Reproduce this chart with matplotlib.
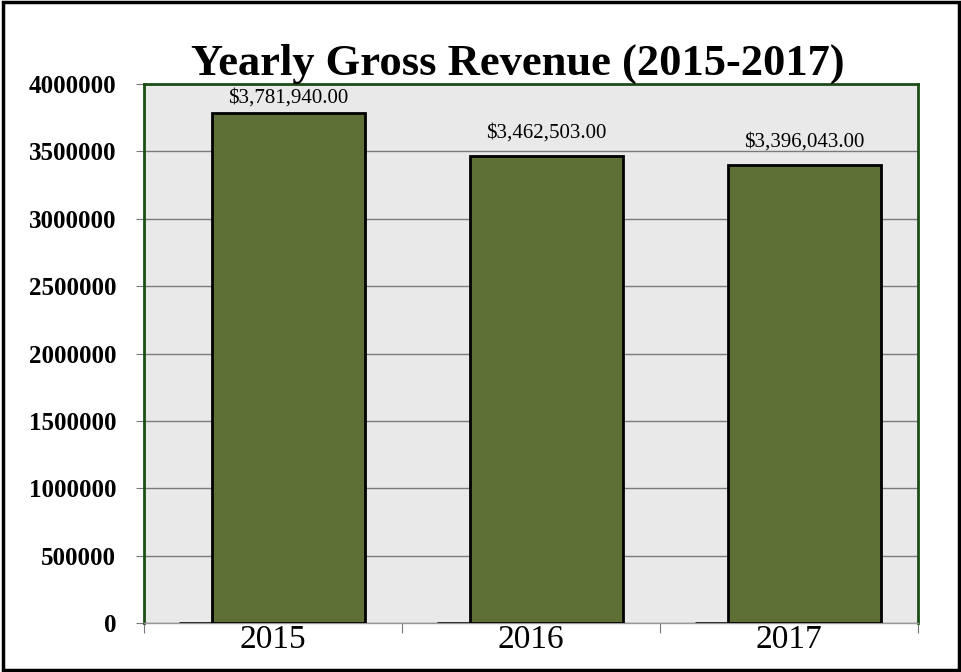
import matplotlib.pyplot as plt
from matplotlib.patches import Rectangle

years = ['2015', '2016', '2017']
revenue = [3781940.00, 3462503.00, 3396043.00]
empty_series = [0, 0, 0]
value_labels = ['$3,781,940.00', '$3,462,503.00', '$3,396,043.00']
y_ticks = [0, 500000, 1000000, 1500000, 2000000, 2500000, 3000000, 3500000, 4000000]

plt.rcParams['font.family'] = ['Liberation Serif', 'DejaVu Serif']

fig = plt.figure(figsize=(9.62, 6.72), dpi=100)
ax = fig.add_axes([0.1497, 0.0729, 0.8044, 0.8021])
ax.set_facecolor('#e9e9e9')

pos = list(range(len(years)))
ax.bar([p - 0.066 for p in pos], empty_series, width=0.593, color='#5e7035',
       edgecolor='black', linewidth=2, zorder=2)
bars = ax.bar([p + 0.06 for p in pos], revenue, width=0.593, color='#5e7035',
              edgecolor='black', linewidth=2, zorder=3)

# labels sit above the bar, but get pushed down to stay inside the plot area
ymax = 4000000
gap = 141000
for b, lab in zip(bars, value_labels):
    y = min(b.get_height() + gap, ymax - gap)
    ax.text(b.get_x() + b.get_width() / 2, y, lab,
            ha='center', va='baseline', fontsize=15, zorder=4)

ax.set_xlim(-0.5, 2.5)
ax.set_ylim(0, ymax)
ax.set_yticks(y_ticks)
ax.set_yticklabels([str(t) for t in y_ticks], fontsize=18, fontweight='bold')
ax.set_xticks([-0.5, 0.5, 1.5, 2.5])
ax.set_xticklabels([])
ax.set_xticks(pos, minor=True)
ax.set_xticklabels(years, minor=True, fontsize=24)
ax.tick_params(axis='x', which='minor', length=0, pad=1)
ax.tick_params(axis='x', which='major', length=7, color='#777777')
ax.tick_params(axis='y', length=6, color='#777777', pad=14)
ax.yaxis.grid(True, color='#7a7a7a', linewidth=1, zorder=1)
ax.set_axisbelow(True)

for s in ax.spines.values():
    s.set_color('#1d4d16')
    s.set_linewidth(2)
ax.spines['bottom'].set_color('#999999')
ax.spines['bottom'].set_linewidth(1)

fig.text(0.538, 0.905, 'Yearly Gross Revenue (2015-2017)', ha='center', va='center',
         fontsize=32, fontweight='bold')

fig.patches.append(Rectangle((0.003, 0.003), 0.994, 0.994, transform=fig.transFigure,
                             fill=False, edgecolor='black', linewidth=2.5))

fig.savefig('out.png', dpi=100)
